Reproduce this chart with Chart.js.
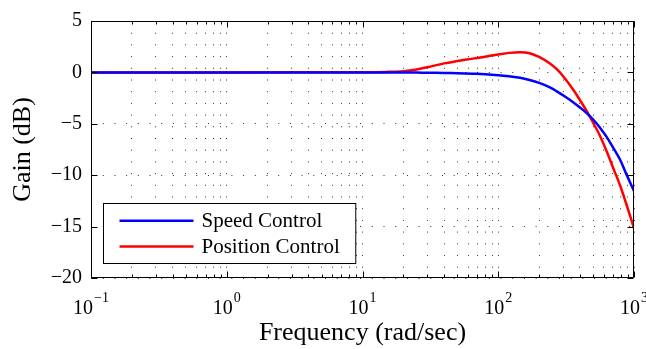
<!DOCTYPE html>
<html><head><meta charset="utf-8">
<script src="https://cdn.jsdelivr.net/npm/chart.js@4"></script>
<style>html,body{margin:0;padding:0;background:#fff;overflow:hidden}#wrap{width:646px;height:349px}</style>
</head><body><div id="wrap"><canvas id="c" width="646" height="349"></canvas></div>
<script>
// ---- data ----
const freq = [0.1, 1, 10, 15, 20, 25, 30, 40, 50, 65, 80, 100, 120, 145, 170, 200, 240, 270, 310, 360, 400, 450, 500, 560, 630, 700, 790, 880, 1000];
const speedGain = [0, 0, 0, -0.01, -0.01, -0.02, -0.03, -0.05, -0.08, -0.13, -0.18, -0.27, -0.38, -0.53, -0.74, -1.02, -1.45, -1.84, -2.35, -2.95, -3.42, -3.98, -4.58, -5.35, -6.3, -7.3, -8.5, -9.92, -11.53];
const positionGain = [0, 0, 0.02, 0.05, 0.12, 0.28, 0.5, 0.88, 1.1, 1.34, 1.53, 1.74, 1.9, 1.97, 1.87, 1.5, 0.87, 0.31, -0.59, -1.76, -2.7, -3.8, -4.9, -6.13, -7.7, -9.25, -11.0, -12.85, -15.17];
const seriesNames = ['Speed Control', 'Position Control'];
const decades = [0.1, 1, 10, 100, 1000];
const decadeExponents = ['\u22121', '0', '1', '2', '3'];
const minorMultipliers = [1, 2, 3, 4, 5, 6, 7, 8, 9];
const yTickValues = [5, 0, -5, -10, -15, -20];

const SERIF = '"Liberation Serif", "Times New Roman", serif';

const xTickList = [];
decades.forEach((d, i) => {
  if (i < decades.length - 1) minorMultipliers.forEach(m => xTickList.push(m * d));
  else xTickList.push(d);
});

const toPts = (ys) => freq.map((f, i) => ({x: f, y: ys[i]}));

const framePlugin = {
  id: 'frame',
  afterDatasetsDraw(chart) {
    const {ctx, chartArea: a, scales: {x, y}} = chart;
    ctx.save();
    ctx.strokeStyle = '#000';
    ctx.lineWidth = 1;
    const L = Math.round(a.left) + 0.5, R = Math.round(a.right) - 0.5;
    const T = Math.round(a.top) + 0.5, B = Math.round(a.bottom) - 0.5;
    ctx.beginPath();
    ctx.rect(L, T, R - L, B - T);
    xTickList.forEach(v => {
      const px = Math.round(x.getPixelForValue(v)) + 0.5;
      const major = decades.includes(v);
      const len = major ? 6 : 3;
      ctx.moveTo(px, B); ctx.lineTo(px, B - len);
      ctx.moveTo(px, T); ctx.lineTo(px, T + len);
    });
    yTickValues.forEach(v => {
      const py = Math.round(y.getPixelForValue(v)) + 0.5;
      ctx.moveTo(L, py); ctx.lineTo(L + 6, py);
      ctx.moveTo(R, py); ctx.lineTo(R - 6, py);
    });
    ctx.stroke();

    ctx.fillStyle = '#000';
    ctx.textBaseline = 'alphabetic';
    ctx.textAlign = 'left';
    decades.forEach((d, i) => {
      const px = x.getPixelForValue(d);
      ctx.font = '20px ' + SERIF;
      const w10 = ctx.measureText('10').width;
      ctx.font = '14px ' + SERIF;
      const we = ctx.measureText(decadeExponents[i]).width;
      const start = px - (w10 + 1 + we) / 2;
      ctx.font = '20px ' + SERIF;
      ctx.fillText('10', start, 314);
      ctx.font = '14px ' + SERIF;
      ctx.fillText(decadeExponents[i], start + w10 + 1, 301.5);
    });

    const ds = chart.data.datasets;
    ctx.font = '21px ' + SERIF;
    const textW = Math.max(...ds.map(d => ctx.measureText(d.label).width));
    const lx = Math.round(a.left) + 12.5;
    const rowGap = 25.6;
    const boxH = 60;
    const lyBottom = Math.round(a.bottom) - 14.5;
    const ly = lyBottom - boxH;
    const boxW = 16 + 74 + 8 + textW + 16;
    ctx.fillStyle = '#fff';
    ctx.fillRect(lx, ly, boxW, boxH);
    ctx.strokeStyle = '#000';
    ctx.lineWidth = 1;
    ctx.strokeRect(lx, ly, boxW, boxH);
    ds.forEach((d, i) => {
      const cy = ly + 17.3 + i * rowGap;
      ctx.strokeStyle = d.borderColor;
      ctx.lineWidth = 2.5;
      ctx.beginPath();
      ctx.moveTo(lx + 16, cy); ctx.lineTo(lx + 90, cy);
      ctx.stroke();
      ctx.fillStyle = '#000';
      ctx.textBaseline = 'middle';
      ctx.fillText(d.label, lx + 98, cy + 1);
    });
    ctx.restore();
  }
};

new Chart(document.getElementById('c'), {
  type: 'line',
  data: {
    datasets: [
      {label: seriesNames[0], data: toPts(speedGain), borderColor: '#0000ff', backgroundColor: '#0000ff', borderWidth: 2.5, pointRadius: 0, tension: 0.35, fill: false},
      {label: seriesNames[1], data: toPts(positionGain), borderColor: '#ff0000', backgroundColor: '#ff0000', borderWidth: 2.5, pointRadius: 0, tension: 0.35, fill: false}
    ]
  },
  options: {
    responsive: false,
    animation: false,
    devicePixelRatio: 1,
    layout: {padding: {left: 0, right: 12, top: 17, bottom: 0}},
    plugins: {legend: {display: false}, tooltip: {enabled: false}},
    scales: {
      x: {
        type: 'logarithmic',
        min: 0.1, max: 1000,
        afterBuildTicks(s) { s.ticks = xTickList.map(v => ({value: v, major: decades.includes(v)})); },
        afterFit(s) { s.height = 71; },
        ticks: {display: false},
        grid: {color: '#333', lineWidth: 1, drawTicks: false},
        border: {display: false, dash: [1, 10.7]},
        title: {display: true, text: 'Frequency (rad/sec)', color: '#000', font: {family: SERIF, size: 26}, padding: {top: 0, bottom: 0}}
      },
      y: {
        min: -20, max: 5,
        afterBuildTicks(s) { s.ticks = yTickValues.map(v => ({value: v})); },
        afterFit(s) { s.width = 91; },
        ticks: {color: '#000', font: {family: SERIF, size: 20}, padding: 9,
          callback: v => v < 0 ? '\u2212' + Math.abs(v) : String(v)},
        grid: {color: '#333', lineWidth: 1, drawTicks: false},
        border: {display: false, dash: [1, 10.7]},
        title: {display: true, text: 'Gain (dB)', color: '#000', font: {family: SERIF, size: 26}, padding: {top: 8, bottom: 0}}
      }
    }
  },
  plugins: [framePlugin]
});
</script>
</body></html>
